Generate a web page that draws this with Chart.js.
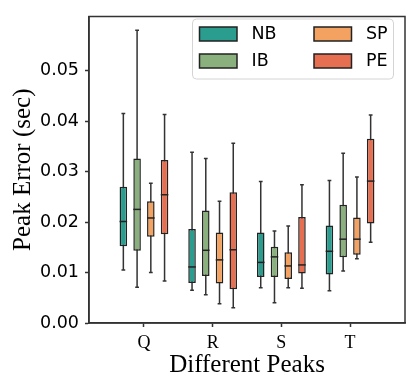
<!DOCTYPE html>
<html>
<head>
<meta charset="utf-8">
<script src="https://cdn.jsdelivr.net/npm/chart.js@4.4.1/dist/chart.umd.min.js"></script>
<style>
  body { margin: 0; background: #fff; }
</style>
</head>
<body>
<canvas id="Chart" width="415" height="389"></canvas>
<script>
const categories = ['Q', 'R', 'S', 'T'];
const seriesNames = ['NB', 'IB', 'SP', 'PE'];
const seriesColors = ['#2a9d8f', '#8ab17d', '#f4a261', '#e76f51'];
const yTicks = [0, 0.01, 0.02, 0.03, 0.04, 0.05];

// one row per series (NB, IB, SP, PE), one column per peak (Q, R, S, T)
const whiskerLow = [
    [0.0105, 0.0065, 0.0070, 0.0064],
    [0.0071, 0.0056, 0.0040, 0.0103],
    [0.0100, 0.0038, 0.0070, 0.0127],
    [0.0083, 0.0030, 0.0069, 0.0160]
];
const q1 = [
    [0.0152, 0.0079, 0.0091, 0.0096],
    [0.0143, 0.0093, 0.0091, 0.0130],
    [0.0171, 0.0078, 0.0087, 0.0135],
    [0.0176, 0.0067, 0.0098, 0.0197]
];
const median = [
    [0.0201, 0.0111, 0.0120, 0.0142],
    [0.0225, 0.0144, 0.0131, 0.0166],
    [0.0208, 0.0125, 0.0113, 0.0166],
    [0.0254, 0.0145, 0.0115, 0.0281]
];
const q3 = [
    [0.0270, 0.0186, 0.0179, 0.0193],
    [0.0326, 0.0223, 0.0151, 0.0234],
    [0.0241, 0.0179, 0.0140, 0.0209],
    [0.0323, 0.0259, 0.0210, 0.0365]
];
const whiskerHigh = [
    [0.0415, 0.0338, 0.0280, 0.0282],
    [0.0580, 0.0326, 0.0182, 0.0336],
    [0.0277, 0.0241, 0.0192, 0.0289],
    [0.0413, 0.0356, 0.0274, 0.0412]
];

const sansFont = "'DejaVu Sans', sans-serif";
const serifFont = "'Liberation Serif', 'Times New Roman', serif";

const datasets = seriesNames.map((name, s) => ({
    label: name,
    data: categories.map((c, i) => ({ x: i, y: [q1[s][i], q3[s][i]] })),
    backgroundColor: seriesColors[s],
    borderColor: '#222',
    borderWidth: 1.5,
    borderSkipped: false,
    categoryPercentage: 0.8,
    barPercentage: 0.55
}));

// whiskers under the boxes, medians on top, frame and legend last
const boxPlugin = {
    id: 'boxParts',
    beforeDatasetsDraw(chart) {
        const ctx = chart.ctx;
        const y = chart.scales.y;
        ctx.save();
        ctx.strokeStyle = '#333';
        ctx.lineWidth = 1.5;
        chart.data.datasets.forEach((ds, s) => {
            chart.getDatasetMeta(s).data.forEach((bar, i) => {
                const lo = y.getPixelForValue(whiskerLow[s][i]);
                const hi = y.getPixelForValue(whiskerHigh[s][i]);
                const cap = bar.width / 4;
                ctx.beginPath();
                ctx.moveTo(bar.x, lo);
                ctx.lineTo(bar.x, hi);
                ctx.moveTo(bar.x - cap, lo);
                ctx.lineTo(bar.x + cap, lo);
                ctx.moveTo(bar.x - cap, hi);
                ctx.lineTo(bar.x + cap, hi);
                ctx.stroke();
            });
        });
        ctx.restore();
    },
    afterDatasetsDraw(chart) {
        const ctx = chart.ctx;
        const y = chart.scales.y;
        ctx.save();
        ctx.strokeStyle = '#222';
        ctx.lineWidth = 1.5;
        chart.data.datasets.forEach((ds, s) => {
            chart.getDatasetMeta(s).data.forEach((bar, i) => {
                const m = y.getPixelForValue(median[s][i]);
                ctx.beginPath();
                ctx.moveTo(bar.x - bar.width / 2, m);
                ctx.lineTo(bar.x + bar.width / 2, m);
                ctx.stroke();
            });
        });
        ctx.restore();
    },
    afterDraw(chart) {
        const ctx = chart.ctx;
        const a = chart.chartArea;
        ctx.save();
        ctx.strokeStyle = '#333';
        ctx.lineWidth = 1.5;
        ctx.strokeRect(a.left, a.top, a.right - a.left, a.bottom - a.top);

        // legend, two columns
        ctx.beginPath();
        ctx.roundRect(192.5, 19, 201, 60, 4);
        ctx.fillStyle = 'rgba(255,255,255,0.8)';
        ctx.fill();
        ctx.strokeStyle = '#d4d4d4';
        ctx.lineWidth = 1;
        ctx.stroke();

        const colX = [199.5, 314];
        const rowY = [27, 54];
        ctx.font = '17.5px ' + sansFont;
        ctx.textBaseline = 'middle';
        ctx.textAlign = 'left';
        seriesNames.forEach((name, s) => {
            const col = Math.floor(s / 2);
            const row = s % 2;
            ctx.fillStyle = seriesColors[s];
            ctx.fillRect(colX[col], rowY[row], 37.5, 14);
            ctx.strokeStyle = '#222';
            ctx.lineWidth = 1.5;
            ctx.strokeRect(colX[col], rowY[row], 37.5, 14);
            ctx.fillStyle = '#000';
            ctx.fillText(name, colX[col] + 52, rowY[row] + 7.5);
        });
        ctx.restore();
    }
};

const ctx = document.getElementById('Chart').getContext('2d');
const chart = new Chart(ctx, {
    type: 'bar',
    data: { datasets: datasets },
    options: {
        responsive: false,
        animation: false,
        layout: { padding: { top: 10, right: 10, left: 0, bottom: 0 } },
        plugins: {
            legend: { display: false },
            tooltip: { enabled: false }
        },
        scales: {
            x: {
                type: 'linear',
                min: -0.8,
                max: 3.8,
                offset: false,
                afterBuildTicks: scale => {
                    scale.ticks = categories.map((c, i) => ({ value: i }));
                },
                afterFit: scale => { scale.height = 66; },
                grid: { offset: false, drawOnChartArea: false, tickLength: 4, tickColor: '#333', tickWidth: 1.5 },
                border: { color: '#333', width: 1.5 },
                ticks: {
                    callback: v => categories[v],
                    color: '#000',
                    padding: 5,
                    font: { family: serifFont, size: 18 }
                },
                title: {
                    display: true,
                    text: 'Different Peaks',
                    color: '#000',
                    font: { family: serifFont, size: 25 },
                    padding: { top: 0, bottom: 9 }
                }
            },
            y: {
                min: 0,
                max: 0.0607,
                afterBuildTicks: scale => {
                    scale.ticks = yTicks.map(v => ({ value: v }));
                },
                afterFit: scale => { scale.width = 89; },
                grid: { drawOnChartArea: false, tickLength: 4, tickColor: '#333', tickWidth: 1.5 },
                border: { color: '#333', width: 1.5 },
                ticks: {
                    callback: v => v.toFixed(2),
                    color: '#000',
                    padding: 6,
                    font: { family: sansFont, size: 17.5 }
                },
                title: {
                    display: true,
                    text: 'Peak Error (sec)',
                    color: '#000',
                    font: { family: serifFont, size: 25 },
                    padding: { top: 8, bottom: 0 }
                }
            }
        }
    },
    plugins: [boxPlugin]
});
</script>
</body>
</html>
